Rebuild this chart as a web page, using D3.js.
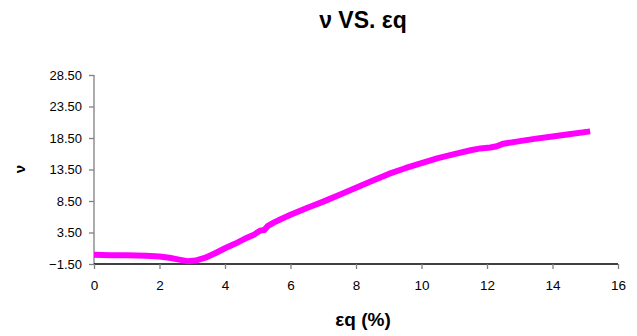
<!DOCTYPE html>
<html><head><meta charset="utf-8">
<script src="https://cdn.jsdelivr.net/npm/d3@7"></script>
<style>
html,body{margin:0;padding:0;background:#fff;}
svg{display:block;font-family:"Liberation Sans",Arial,sans-serif;}
</style></head>
<body>
<svg id="chart" width="637" height="336"></svg>
<script>
const titleText = "ν VS. εq";
const xLabel = "εq (%)";
const yLabel = "ν";
const xTicks = [0, 2, 4, 6, 8, 10, 12, 14, 16];
const yTicks = [-1.5, 3.5, 8.5, 13.5, 18.5, 23.5, 28.5];
const strainQ = [0, 0.5, 1.0, 1.6, 2.0, 2.3, 2.6, 2.85, 3.1, 3.4, 3.7, 4.0, 4.3, 4.6, 4.9, 5.07, 5.2, 5.3, 5.5, 5.7, 6.0, 6.5, 7.0, 7.5, 8.0, 8.5, 9.0, 9.5, 10.0, 10.5, 11.0, 11.5, 11.8, 12.1, 12.3, 12.5, 13.0, 13.5, 14.0, 14.5, 15.15];
const nuValues = [-0.05, -0.1, -0.1, -0.2, -0.3, -0.5, -0.8, -1.05, -0.95, -0.5, 0.2, 1.0, 1.7, 2.5, 3.2, 3.8, 3.9, 4.5, 5.1, 5.6, 6.3, 7.4, 8.4, 9.5, 10.6, 11.7, 12.8, 13.7, 14.5, 15.3, 15.95, 16.55, 16.85, 17.0, 17.2, 17.6, 18.0, 18.4, 18.75, 19.1, 19.55];

const svg = d3.select("#chart");
const x = d3.scaleLinear().domain([0, 16]).range([94, 618]);
const y = d3.scaleLinear().domain([-1.5, 28.5]).range([264, 75]);

// y axis
const yAxis = svg.append("g").attr("transform", "translate(" + x(0) + ",0)")
  .call(d3.axisLeft(y).tickValues(yTicks).tickFormat(d3.format(".2f")).tickSize(5).tickPadding(7));
yAxis.select(".domain").attr("stroke", "#808080").attr("stroke-width", 1.3).attr("d", "M0," + y(28.5) + "V" + y(-1.5));
yAxis.selectAll(".tick line").attr("stroke", "#808080").attr("stroke-width", 1.3);
yAxis.selectAll("text").attr("font-size", 13).attr("fill", "#000").attr("font-family", "Liberation Sans, Arial, sans-serif");

// x axis
const xAxis = svg.append("g").attr("transform", "translate(0," + y(-1.5) + ")")
  .call(d3.axisBottom(x).tickValues(xTicks).tickFormat(d3.format("d")).tickSize(5).tickPadding(11));
xAxis.select(".domain").attr("stroke", "#000").attr("stroke-width", 1.3).attr("d", "M" + x(0) + ",0H" + x(16));
xAxis.selectAll(".tick line").attr("stroke", "#808080").attr("stroke-width", 1.3);
xAxis.selectAll("text").attr("font-size", 13.5).attr("fill", "#000").attr("font-family", "Liberation Sans, Arial, sans-serif");

// line
const pts = strainQ.map((d, i) => [d, nuValues[i]]);
svg.append("path").datum(pts)
  .attr("fill", "none").attr("stroke", "#FF00FF").attr("stroke-width", 6)
  .attr("stroke-linejoin", "round")
  .attr("d", d3.line().x(d => x(d[0])).y(d => y(d[1])));

// title
svg.append("text").attr("x", 363).attr("y", 28).attr("text-anchor", "middle")
  .attr("font-size", 23).attr("font-weight", "bold").text(titleText);

// x label
svg.append("text").attr("x", 363).attr("y", 326).attr("text-anchor", "middle")
  .attr("font-size", 19).attr("font-weight", "bold").text(xLabel);

// y label
svg.append("text").attr("transform", "translate(25,169) rotate(-90)").attr("text-anchor", "middle")
  .attr("font-size", 15).attr("font-weight", "bold").text(yLabel);
</script>
</body></html>
